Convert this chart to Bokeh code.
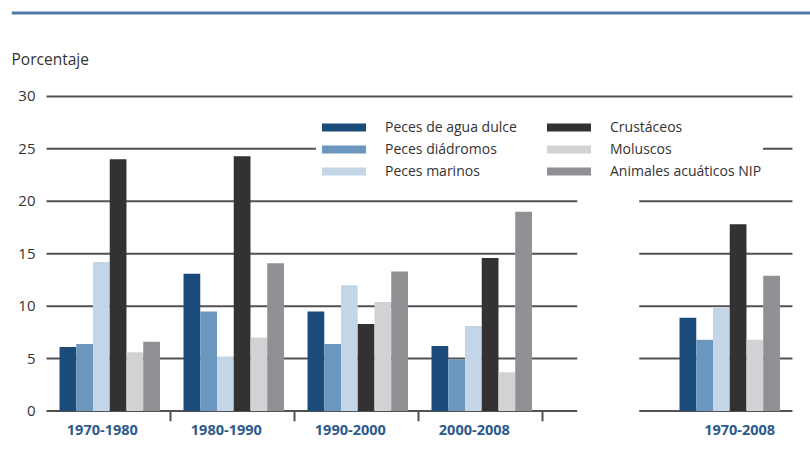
from bokeh.plotting import figure
from bokeh.models import FixedTicker, Legend, LegendItem, ColumnDataSource
from bokeh.core.properties import value
from bokeh.embed import file_html
from bokeh.resources import INLINE

# ---------------- data ----------------
periods = ["1970-1980", "1980-1990", "1990-2000", "2000-2008", "1970-2008"]
series_names = ["Peces de agua dulce", "Peces diádromos", "Peces marinos",
                "Crustáceos", "Moluscos", "Animales acuáticos NIP"]
agua_dulce = [6.1, 13.1, 9.5, 6.2, 8.9]
diadromos = [6.4, 9.5, 6.4, 4.9, 6.8]
marinos = [14.2, 5.2, 12.0, 8.1, 9.9]
crustaceos = [24.0, 24.3, 8.3, 14.6, 17.8]
moluscos = [5.6, 7.0, 10.4, 3.7, 6.8]
nip = [6.6, 14.1, 13.3, 19.0, 12.9]
y_ticks = [0, 5, 10, 15, 20, 25, 30]
y_label = "Porcentaje"

series = [agua_dulce, diadromos, marinos, crustaceos, moluscos, nip]
colors = ["#1b4b7b", "#6b96be", "#c4d5e7", "#333132", "#d1d2d4", "#8f9094"]

FONT = "Open Sans"

# layout (x in "group" units: one period group = 1 unit)
group_offset = [0, 1, 2, 3, 5]
bar_w = 0.135
bar_start = 0.105
label_shift = [0.45, 0.45, 0.45, 0.45, 0.59]
left_panel = (0.0, 4.28)
right_panel = (4.78, 6.016)
group_edges = [1, 2, 3, 4]

p = figure(width=810, height=451, output_backend="svg", toolbar_location=None,
           x_range=(-38 / 124, 764 / 124), y_range=(-1.0, 38.38),
           min_border_left=8, min_border_right=0, min_border_top=8,
           min_border_bottom=30)
p.outline_line_color = None
p.xgrid.grid_line_color = None
p.ygrid.grid_line_color = None
p.background_fill_color = "white"

# grid lines (split between the two panels, top line continuous)
gx0, gx1, gy = [], [], []
for t in y_ticks:
    if t == 30:
        gx0.append(left_panel[0]); gx1.append(right_panel[1]); gy.append(t)
    else:
        gx0 += [left_panel[0], right_panel[0]]
        gx1 += [left_panel[1], right_panel[1]]
        gy += [t, t]
p.segment(x0=gx0, x1=gx1, y0=gy, y1=gy, line_color="#525254", line_width=2)

# group separator ticks below the baseline
p.segment(x0=group_edges, x1=group_edges, y0=[0] * 4, y1=[-1.0] * 4,
          line_color="#525254", line_width=2)

# top blue rule
p.segment(x0=[-0.28], x1=[10], y0=[37.95], y1=[37.95], line_color="#4f7aa6",
          line_width=3)

# axis caption
p.text(x=[-0.282], y=[33.6], text=[y_label], text_font=value(FONT),
       text_font_size="15.5px", text_color="#333333", text_baseline="middle",
       text_align="left")

# bars
renderers = []
for i, (vals, col) in enumerate(zip(series, colors)):
    xs = [g + bar_start + (i + 0.5) * bar_w for g in group_offset]
    src = ColumnDataSource(dict(x=xs, top=vals))
    r = p.vbar(x="x", top="top", bottom=0, width=bar_w, source=src,
               fill_color=col, line_color=None)
    renderers.append(r)

# legend
items = [LegendItem(label=series_names[i], renderers=[renderers[i]])
         for i in range(6)]
legend = Legend(items=items, ncols=2, location=(308, 241),
                glyph_width=55, glyph_height=10, label_width=153,
                label_height=17, spacing=3, padding=12,
                label_text_font=FONT, label_text_font_size="14px",
                label_text_color="#333333", background_fill_color="white",
                background_fill_alpha=1.0, border_line_color=None,
                label_standoff=14)
p.add_layout(legend, "center")

# axes
p.yaxis.ticker = FixedTicker(ticks=y_ticks)
p.yaxis.axis_line_color = None
p.yaxis.major_tick_line_color = None
p.yaxis.minor_tick_line_color = None
p.yaxis.major_tick_out = 0
p.yaxis.major_tick_in = 0
p.yaxis.major_label_standoff = -27
p.yaxis.major_label_text_font = FONT
p.yaxis.major_label_text_font_size = "15px"
p.yaxis.major_label_text_color = "#333333"

label_x = [g + s for g, s in zip(group_offset, label_shift)]
p.xaxis.ticker = FixedTicker(ticks=label_x)
p.xaxis.major_label_overrides = {x: lab for x, lab in zip(label_x, periods)}
p.xaxis.axis_line_color = None
p.xaxis.major_tick_line_color = None
p.xaxis.minor_tick_line_color = None
p.xaxis.major_tick_out = 0
p.xaxis.major_tick_in = 0
p.xaxis.major_label_standoff = 3
p.xaxis.major_label_text_font = FONT
p.xaxis.major_label_text_font_size = "14.5px"
p.xaxis.major_label_text_font_style = "bold"
p.xaxis.major_label_text_color = "#2d5a8c"

open("out.html", "w").write(file_html(p, INLINE))
